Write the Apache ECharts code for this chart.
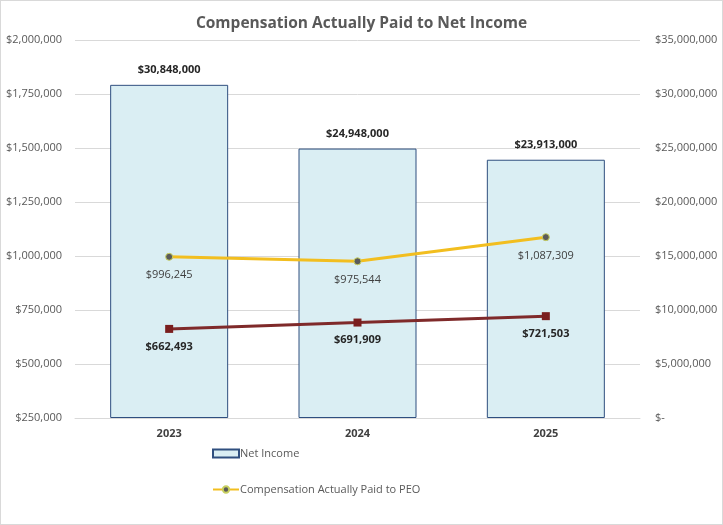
<!DOCTYPE html>
<html><head><meta charset="utf-8">
<script src="https://cdn.jsdelivr.net/npm/echarts@6/dist/echarts.min.js"></script>
<style>html,body{margin:0;padding:0;background:#fff}#c{width:723px;height:525px;box-sizing:border-box;border:1px solid #d9d9d9}</style>
</head><body><div id="c"></div>
<script>
const categories = ['2023', '2024', '2025'];
const netIncome = [30848000, 24948000, 23913000];
const capPEO = [996245, 975544, 1087309];
const capNonPEO = [662493, 691909, 721503];
const leftTicks = [250000, 2000000, 250000];
const rightTicks = [0, 35000000, 5000000];

const fmt = v => '$' + Math.round(v).toLocaleString('en-US');
const F = '"Open Sans", "Liberation Sans", sans-serif';
const chart = echarts.init(document.getElementById('c'), null, {renderer: 'canvas'});
chart.setOption({
  animation: false,
  title: {text: 'Compensation Actually Paid to Net Income', left: 'center', top: 10,
    textStyle: {fontFamily: F, fontSize: 15.5, fontWeight: 'bold', color: '#595959'}},
  grid: {left: 74, right: 82, top: 39, bottom: 106, containLabel: false},
  legend: {orient: 'vertical', left: 206, top: 442, itemGap: 25, itemWidth: 26, itemHeight: 8,
    data: [{name: 'Net Income', icon: 'rect'}, {name: 'Compensation Actually Paid to PEO'}],
    textStyle: {fontFamily: F, fontSize: 11, color: '#595959', padding: [0,0,0,-4]}},
  xAxis: {type: 'category', data: categories,
    axisLine: {lineStyle: {color: '#d9d9d9'}}, axisTick: {show: false},
    axisLabel: {fontFamily: F, fontSize: 11, fontWeight: 'bold', color: '#404040', margin: 10}},
  yAxis: [
    {type: 'value', min: leftTicks[0], max: leftTicks[1], interval: leftTicks[2],
      axisLabel: {formatter: fmt, fontFamily: F, fontSize: 11, color: '#595959', margin: 13},
      splitLine: {lineStyle: {color: '#d9d9d9'}}, axisLine: {show: false}},
    {type: 'value', min: rightTicks[0], max: rightTicks[1], interval: rightTicks[2],
      axisLabel: {formatter: v => v === 0 ? '$-' : fmt(v), fontFamily: F, fontSize: 11, color: '#595959', margin: 15},
      splitLine: {show: false}, axisLine: {show: false}}
  ],
  series: [
    {name: 'Net Income', type: 'bar', yAxisIndex: 1, data: netIncome, barWidth: 118,
      itemStyle: {color: '#DAEEF3', borderColor: '#2F4F7F', borderWidth: 1},
      label: {show: true, position: 'top', formatter: p => fmt(p.value), distance: 9,
        fontFamily: F, fontSize: 11, fontWeight: 'bold', color: '#262626'}},
    {name: 'Compensation Actually Paid to PEO', type: 'line', yAxisIndex: 0, data: capPEO,
      lineStyle: {color: '#F2BE1F', width: 3}, symbol: 'circle', symbolSize: 7,
      itemStyle: {color: '#5A5A5A', borderColor: '#C8D060', borderWidth: 1},
      label: {show: true, position: 'bottom', distance: 9, formatter: p => fmt(p.value),
        fontFamily: F, fontSize: 11, color: '#404040'}},
    {name: 'Average Compensation Actually Paid to Non-PEO NEOs', type: 'line', yAxisIndex: 0, data: capNonPEO,
      lineStyle: {color: '#7F2A2A', width: 3}, symbol: 'rect', symbolSize: 8,
      itemStyle: {color: '#7A1E1E'},
      label: {show: true, position: 'bottom', distance: 8, formatter: p => fmt(p.value),
        fontFamily: F, fontSize: 11, fontWeight: 'bold', color: '#262626'}}
  ]
});
</script></body></html>
